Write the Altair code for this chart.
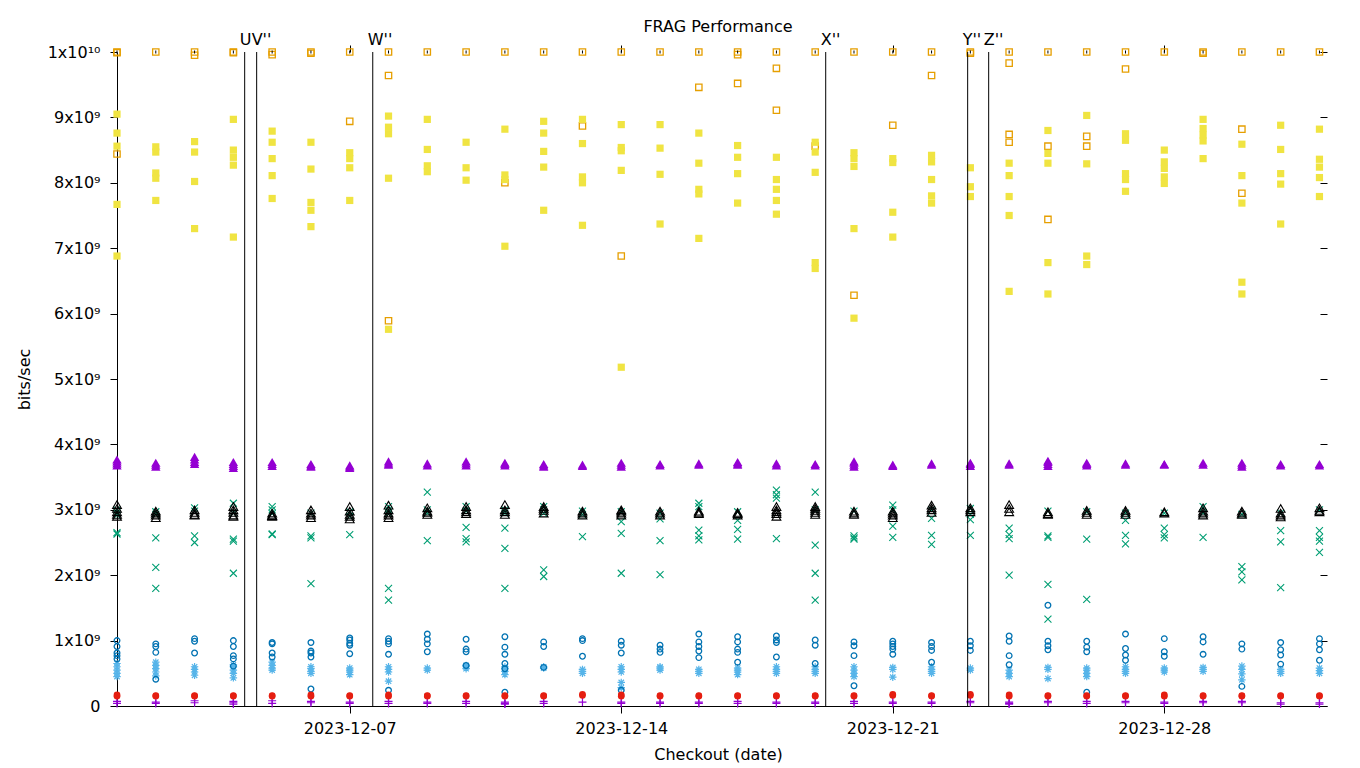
import altair as alt
import pandas as pd

FONT = "DejaVu Sans"

# Checkout dates (one column of runs per day)
dates = ["2023-12-01", "2023-12-02", "2023-12-03", "2023-12-04", "2023-12-05", "2023-12-06",
         "2023-12-07", "2023-12-08", "2023-12-09", "2023-12-10", "2023-12-11", "2023-12-12",
         "2023-12-13", "2023-12-14", "2023-12-15", "2023-12-16", "2023-12-17", "2023-12-18",
         "2023-12-19", "2023-12-20", "2023-12-21", "2023-12-22", "2023-12-23", "2023-12-24",
         "2023-12-25", "2023-12-26", "2023-12-27", "2023-12-28", "2023-12-29", "2023-12-30",
         "2023-12-31", "2024-01-01"]

# values in units of 1e9 bits/sec
s_plus_purple = [[0.07, 0.04], [0.06, 0.04], [0.08, 0.05], [0.07, 0.05, 0.03], [0.08, 0.04],
                 [0.07, 0.05], [0.06, 0.04], [0.07, 0.04], [0.06, 0.04], [0.07, 0.04],
                 [0.06, 0.04, 0.03], [0.07, 0.04], [0.06], [0.06, 0.04], [0.06, 0.04],
                 [0.06, 0.04], [0.07, 0.04], [0.06, 0.04], [0.06, 0.04], [0.07, 0.04],
                 [0.06, 0.04], [0.06, 0.04], [0.07, 0.05], [0.06, 0.04, 0.03], [0.07, 0.05],
                 [0.07, 0.04], [0.07, 0.05], [0.06, 0.04], [0.07, 0.05], [0.07, 0.05],
                 [0.05, 0.03], [0.05, 0.03]]

s_x_teal = [[3.0, 2.95, 2.92, 2.65, 2.63], [2.97, 2.93, 2.57, 2.12, 1.80], [3.03, 2.98, 2.60, 2.50],
            [3.10, 2.95, 2.55, 2.52, 2.03], [3.05, 3.0, 2.94, 2.63, 2.62], [2.95, 2.60, 2.57, 1.87],
            [2.97, 2.90, 2.62], [3.05, 3.0, 2.95, 1.80, 1.62], [3.27, 3.0, 2.95, 2.53],
            [3.05, 2.98, 2.73, 2.56, 2.51], [3.0, 2.95, 2.72, 2.41, 1.80], [3.05, 3.0, 2.95, 2.08, 1.98],
            [2.98, 2.93, 2.59], [2.97, 2.82, 2.64, 2.03], [2.95, 2.86, 2.53, 2.01],
            [3.10, 3.05, 2.69, 2.60, 2.54], [2.97, 2.84, 2.70, 2.55], [3.30, 3.23, 3.18, 2.56],
            [3.27, 3.0, 2.46, 2.03, 1.62], [2.98, 2.60, 2.57, 2.55], [3.07, 3.0, 2.75, 2.58],
            [3.0, 2.87, 2.61, 2.47], [3.02, 2.93, 2.85, 2.61], [2.72, 2.62, 2.56, 2.0],
            [2.98, 2.60, 2.58, 1.86, 1.33], [2.97, 2.55, 1.63], [2.95, 2.84, 2.61, 2.48],
            [2.95, 2.72, 2.62, 2.57], [3.05, 2.95, 2.58], [2.93, 2.13, 2.05, 1.93],
            [2.95, 2.68, 2.51, 1.81], [3.0, 2.68, 2.58, 2.52, 2.35]]

s_star_lightblue = [[0.45, 0.50, 0.55, 0.60, 0.65], [0.46, 0.52, 0.57, 0.62, 0.67], [0.47, 0.52, 0.56, 0.60],
                    [0.43, 0.50, 0.55, 0.60, 0.63], [0.55, 0.58, 0.62, 0.67], [0.50, 0.53, 0.57, 0.60],
                    [0.48, 0.52, 0.55, 0.58], [0.38, 0.52, 0.56, 0.60], [0.55, 0.58], [0.57, 0.60, 0.62],
                    [0.48, 0.53, 0.57, 0.60], [0.58, 0.60], [0.50, 0.53, 0.56], [0.28, 0.36, 0.52, 0.56, 0.60],
                    [0.55, 0.58, 0.60], [0.50, 0.53, 0.56], [0.48, 0.52, 0.55, 0.58], [0.50, 0.53, 0.56, 0.60],
                    [0.50, 0.53, 0.56, 0.60], [0.45, 0.50, 0.55, 0.60], [0.44, 0.56, 0.59],
                    [0.50, 0.53, 0.56, 0.60], [0.55, 0.58], [0.45, 0.50, 0.55], [0.42, 0.56, 0.59],
                    [0.45, 0.50, 0.55, 0.58], [0.50, 0.53, 0.56, 0.60], [0.52, 0.55, 0.58],
                    [0.53, 0.56, 0.59], [0.40, 0.49, 0.56, 0.61], [0.50, 0.53, 0.56], [0.50, 0.54, 0.58]]

s_sq_open_orange = [[10.0, 9.99, 8.44], [10.0], [10.0, 9.95], [10.0, 9.99], [10.0, 9.96], [10.0, 9.98],
                    [10.0, 8.94], [10.0, 9.64, 5.89], [10.0], [10.0], [10.0, 8.0], [10.0],
                    [10.0, 8.87], [10.0, 6.88], [10.0], [10.0, 9.46], [10.0, 9.96, 9.52], [10.0, 9.75, 9.11],
                    [10.0, 8.56], [10.0, 6.28], [10.0, 8.88], [10.0, 9.64], [10.0, 9.98],
                    [10.0, 9.83, 8.74, 8.62], [10.0, 8.56, 7.44], [10.0, 8.71, 8.56], [10.0, 9.74], [10.0],
                    [10.0, 9.98], [10.0, 8.82, 7.84], [10.0], [10.0]]

s_sq_filled_yellow = [[9.05, 8.76, 8.56, 7.67, 6.88], [8.55, 8.47, 8.15, 8.07, 7.73], [8.63, 8.47, 8.02, 7.30],
                      [8.97, 8.50, 8.39, 8.27, 7.17], [8.79, 8.62, 8.37, 8.11, 7.76], [8.62, 8.21, 7.70, 7.58, 7.33],
                      [8.46, 8.37, 8.23, 7.73], [9.02, 8.85, 8.75, 8.07, 5.76], [8.97, 8.51, 8.26, 8.17],
                      [8.62, 8.23, 8.04], [8.82, 8.12, 8.05, 7.03], [8.94, 8.76, 8.48, 8.24, 7.58],
                      [8.97, 8.60, 8.09, 8.0, 7.35], [8.89, 8.54, 8.49, 8.19, 5.18], [8.89, 8.53, 8.13, 7.37],
                      [8.76, 8.30, 7.90, 7.83, 7.15], [8.57, 8.39, 8.14, 7.69], [8.39, 8.05, 7.90, 7.73, 7.52],
                      [8.62, 8.47, 8.16, 6.78, 6.69], [8.46, 8.37, 8.25, 7.30, 5.93], [8.37, 8.31, 7.55, 7.17],
                      [8.42, 8.32, 8.05, 7.80, 7.69], [8.23, 7.94, 7.79], [8.30, 8.11, 7.79, 7.50, 6.34],
                      [8.80, 8.45, 8.30, 6.78, 6.30], [9.03, 8.29, 6.88, 6.75], [8.75, 8.65, 8.14, 8.05, 7.87],
                      [8.50, 8.32, 8.22, 8.09, 7.99], [8.97, 8.83, 8.73, 8.64, 8.37], [8.59, 8.11, 7.69, 6.48, 6.30],
                      [8.88, 8.51, 8.14, 7.98, 7.37], [8.82, 8.36, 8.24, 8.08, 7.79]]

s_circle_open_blue = [[1.0, 0.91, 0.81, 0.77, 0.72], [0.95, 0.91, 0.82, 0.41], [1.03, 0.99, 0.81],
                      [1.0, 0.91, 0.77, 0.72, 0.61], [0.97, 0.95, 0.81, 0.75], [0.97, 0.84, 0.81, 0.75, 0.26],
                      [1.04, 1.01, 0.96, 0.93, 0.80], [1.03, 0.99, 0.95, 0.79, 0.24], [1.10, 1.02, 0.95, 0.83],
                      [1.02, 0.87, 0.83, 0.62], [1.06, 0.90, 0.79, 0.65, 0.57, 0.21], [0.98, 0.91, 0.59],
                      [1.03, 1.0, 0.76], [0.99, 0.93, 0.81, 0.24], [0.93, 0.87, 0.82],
                      [1.10, 0.98, 0.91, 0.84, 0.74], [1.06, 0.98, 0.87, 0.82, 0.67], [1.07, 1.01, 0.97, 0.75],
                      [1.01, 0.93, 0.65], [0.98, 0.92, 0.77, 0.31], [0.99, 0.95, 0.91, 0.87, 0.79],
                      [0.97, 0.91, 0.85, 0.67], [0.99, 0.92, 0.85], [1.07, 0.99, 0.77, 0.63],
                      [1.54, 0.99, 0.92, 0.86], [0.99, 0.90, 0.83, 0.21], [1.10, 0.88, 0.78, 0.70],
                      [1.03, 0.83, 0.76], [1.06, 0.98, 0.79], [0.95, 0.87, 0.30], [0.97, 0.86, 0.78, 0.64],
                      [1.03, 0.95, 0.86, 0.70]]

s_circle_filled_red = [[0.17, 0.15], [0.16, 0.15], [0.16, 0.15], [0.16, 0.15], [0.16, 0.15], [0.17, 0.15],
                       [0.16, 0.15], [0.17, 0.15], [0.16, 0.15], [0.16, 0.15], [0.16, 0.15], [0.16, 0.15],
                       [0.18, 0.16], [0.17, 0.15], [0.16, 0.15], [0.16, 0.15], [0.16, 0.15], [0.16, 0.15],
                       [0.16, 0.15], [0.16, 0.15], [0.18, 0.16], [0.16, 0.15], [0.18, 0.16], [0.17, 0.15],
                       [0.16, 0.15], [0.16, 0.15], [0.16, 0.15], [0.17, 0.15], [0.16, 0.15], [0.16, 0.15],
                       [0.16, 0.15], [0.16, 0.15]]

s_tri_open_black = [[3.08, 3.02, 2.97, 2.93, 2.90], [2.98, 2.95, 2.92, 2.88], [3.0, 2.96, 2.93, 2.92],
                    [3.05, 3.0, 2.96, 2.92, 2.90], [2.95, 2.92, 2.91, 2.90], [3.0, 2.95, 2.92, 2.88],
                    [3.05, 2.98, 2.93, 2.90, 2.86], [3.07, 3.0, 2.95, 2.92, 2.88], [3.03, 2.98, 2.96, 2.93],
                    [3.05, 3.0, 2.97, 2.94], [3.08, 3.0, 2.97, 2.93], [3.05, 3.02, 2.99, 2.95],
                    [2.98, 2.95, 2.92], [3.0, 2.98, 2.95, 2.92], [2.98, 2.95, 2.92], [2.98, 2.96, 2.94],
                    [2.96, 2.94, 2.92], [3.05, 3.0, 2.97, 2.94, 2.90], [3.05, 3.02, 2.99, 2.96, 2.93],
                    [2.98, 2.95, 2.93], [2.98, 2.95, 2.92, 2.88], [3.07, 3.03, 3.0, 2.96], [3.03, 3.0, 2.97],
                    [3.08, 3.02, 2.97], [2.97, 2.94, 2.93], [2.99, 2.96, 2.93], [2.99, 2.96, 2.93],
                    [2.97, 2.95], [3.03, 2.98, 2.95, 2.92], [2.98, 2.95, 2.93], [3.02, 2.95, 2.92, 2.89],
                    [3.03, 2.99, 2.97]]

s_tri_filled_purple = [[3.68, 3.71, 3.74, 3.77], [3.66, 3.69, 3.72], [3.70, 3.73, 3.77, 3.81],
                       [3.64, 3.67, 3.70, 3.73], [3.67, 3.70, 3.73], [3.66, 3.68, 3.70], [3.64, 3.66, 3.68],
                       [3.69, 3.71, 3.74], [3.68, 3.71], [3.68, 3.71, 3.74], [3.68, 3.70, 3.72],
                       [3.66, 3.68, 3.70], [3.67, 3.69], [3.66, 3.69, 3.72], [3.68, 3.70], [3.69, 3.71],
                       [3.69, 3.71, 3.73], [3.68, 3.71], [3.68, 3.70], [3.66, 3.69, 3.72, 3.74],
                       [3.67, 3.69], [3.69, 3.71], [3.67, 3.70, 3.72], [3.69, 3.71], [3.67, 3.70, 3.73, 3.75],
                       [3.68, 3.70, 3.72], [3.69, 3.71], [3.69, 3.70], [3.69, 3.72], [3.66, 3.69, 3.72],
                       [3.68, 3.70], [3.68, 3.70]]

# vertical markers
marker_times = ["2023-12-04T07:00:00Z", "2023-12-04T14:25:00Z", "2023-12-07T14:15:00Z",
                "2023-12-19T06:30:00Z", "2023-12-22T22:20:00Z", "2023-12-23T11:20:00Z"]
marker_labels = ["U", "V''", "W''", "X''", "Y''", "Z''"]

x_tick_days = [7, 14, 21, 28]
y_ticks = [0, 1e9, 2e9, 3e9, 4e9, 5e9, 6e9, 7e9, 8e9, 9e9, 1e10]
y_tick_labels = ["0", "1x10⁹", "2x10⁹", "3x10⁹", "4x10⁹", "5x10⁹", "6x10⁹", "7x10⁹", "8x10⁹", "9x10⁹", "1x10¹⁰"]


def long(values):
    rows = []
    for d, vs in zip(dates, values):
        for v in vs:
            rows.append({"date": d, "v": v * 1e9})
    return pd.DataFrame(rows)


xscale = alt.Scale(type="utc",
                   domain=[alt.DateTime(year=2023, month=12, date=1, utc=True),
                           alt.DateTime(year=2024, month=1, date=1, hours=4, minutes=40, utc=True)])
yscale = alt.Scale(domain=[0, 1e10], nice=False, zero=True)

X = alt.X("date:T", scale=xscale, axis=None)
Y = alt.Y("v:Q", scale=yscale, axis=None)

x_tick_vals = [alt.DateTime(year=2023, month=12, date=d, utc=True) for d in x_tick_days]

AX = dict(labelFont=FONT, labelFontSize=16, labelColor="black", titleFont=FONT, titleFontSize=16,
          titleFontWeight="normal", titleColor="black", tickColor="black", domainColor="black",
          tickWidth=1, domainWidth=1, grid=False)

bottom_axis = alt.Axis(values=x_tick_vals, format="%Y-%m-%d", title="Checkout (date)",
                       tickSize=7, labelPadding=7, labelFlush=False, labelOverlap=False,
                       titleX=601, titleY=48, titleBaseline="middle", titleAnchor="middle", **AX)
label_arr = "[" + ",".join("'" + s + "'" for s in y_tick_labels) + "]"
left_axis = alt.Axis(values=y_ticks, labelExpr=label_arr + "[round(datum.value / 1e9)]",
                     title="bits/sec", tickSize=7, labelPadding=10, labelFlush=False,
                     titleX=-93, titleY=327, titleAngle=-90, titleBaseline="middle", titleAnchor="middle",
                     **AX)
top_axis = alt.Axis(orient="top", values=x_tick_vals, labels=False, domain=False, tickSize=7,
                    title=None, **AX)
right_axis = alt.Axis(orient="right", values=y_ticks, labels=False, domain=False, tickSize=7,
                      offset=-7, title=None, **AX)

PLUS = "M-1,0L1,0M0,-1L0,1"
CROSS = "M-1,-1L1,1M-1,1L1,-1"
STAR = PLUS + "M-0.72,-0.72L0.72,0.72M-0.72,0.72L0.72,-0.72"
VBAR = "M0,-1L0,1"


def pts(values, shape, color, size, filled=False, sw=1.0):
    return alt.Chart(long(values)).mark_point(
        shape=shape, color=color, size=size, filled=filled, strokeWidth=sw, opacity=1
    ).encode(x=X, y=Y)


frame = alt.Chart(long(s_sq_open_orange)).mark_point(opacity=0).encode(
    x=alt.X("date:T", scale=xscale, axis=top_axis),
    y=alt.Y("v:Q", scale=yscale, axis=right_axis),
)

top_vals = [[vs[0]] for vs in s_sq_open_orange]

rules_df = pd.DataFrame({"t": marker_times, "y0": 0.0, "y1": 1e10, "label": marker_labels})
rules = alt.Chart(rules_df).mark_rule(color="black", strokeWidth=1).encode(
    x=alt.X("t:T", scale=xscale, axis=bottom_axis),
    y=alt.Y("y0:Q", scale=yscale, axis=left_axis),
    y2="y1:Q",
)
labels = alt.Chart(rules_df).mark_text(
    align="left", baseline="alphabetic", dx=-5, fontSize=16, font=FONT, color="black"
).encode(x=alt.X("t:T", scale=xscale, axis=None), y=alt.value(-7), text="label:N")

layers = [
    frame,
    pts(s_plus_purple, PLUS, "#9400d3", 64, sw=1.2),
    pts(s_x_teal, CROSS, "#009e73", 49, sw=1.1),
    pts(s_star_lightblue, STAR, "#56b4e9", 56, sw=1.2),
    pts(s_sq_open_orange, "square", "#e69f00", 40, sw=1.3),
    pts(top_vals, VBAR, "black", 9),
    pts(s_sq_filled_yellow, "square", "#f0e442", 52, filled=True),
    pts(s_circle_open_blue, "circle", "#0072b2", 32, sw=1.3),
    pts(s_circle_filled_red, "circle", "#e51e10", 44, filled=True),
    pts(s_tri_open_black, "triangle-up", "black", 78, sw=1.1),
    pts(s_tri_filled_purple, "triangle-up", "#9400d3", 88, filled=True),
    rules,
    labels,
]

chart = alt.layer(*layers).resolve_axis(x="independent", y="independent").properties(
    width=1210, height=654,
    padding={"left": 109, "top": 44, "right": 24, "bottom": 60},
    autosize=alt.AutoSizeParams(type="none"),
    background="white",
    title=alt.TitleParams("FRAG Performance", fontSize=16, font=FONT, fontWeight="normal",
                          color="black", anchor="middle", dx=-4, dy=17, offset=14),
).configure_view(stroke=None)

chart.save("out.html", embed_options={"renderer": "svg", "actions": False})
